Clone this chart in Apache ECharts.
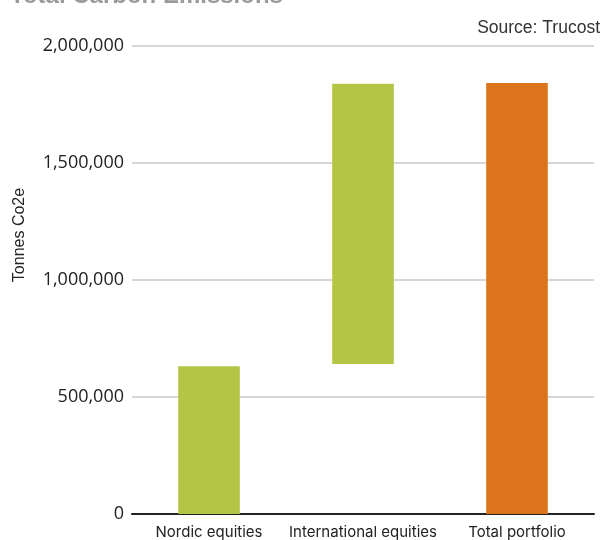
<!DOCTYPE html>
<html><head><meta charset="utf-8">
<script src="https://cdn.jsdelivr.net/npm/echarts@6/dist/echarts.min.js"></script>
<style>html,body{margin:0;padding:0;background:#fff}#c{width:606px;height:540px}</style>
</head><body><div id="c"></div>
<script>
const categories = ['Nordic equities', 'International equities', 'Total portfolio'];
const baseValues = [0, 641000, 0];
const barValues = [631000, 1198000, 1842000];
const barColors = ['#b4c545', '#b4c545', '#dc741b'];
const yTicks = [0, 500000, 1000000, 1500000, 2000000];

const chart = echarts.init(document.getElementById('c'));
chart.setOption({
  animation: false,
  title: [
    { text: 'Total Carbon Emissions', left: 5, top: -21,
      textStyle: { fontFamily: 'Liberation Sans', fontWeight: 'bold', fontSize: 24, color: '#9a9a9a' } },
    { text: 'Source: Trucost', right: 1, top: 14,
      textStyle: { fontFamily: 'Liberation Sans', fontWeight: 'normal', fontSize: 17.5, color: '#333' } }
  ],
  graphic: [
    { type: 'text', x: 20, y: 235, rotation: Math.PI / 2,
      style: { text: 'Tonnes Co2e', font: '16px "Liberation Sans"', fill: '#222',
        align: 'center', verticalAlign: 'middle' } }
  ],
  grid: { left: 132, right: 12, top: 46, bottom: 25 },
  xAxis: {
    type: 'category', data: categories,
    axisLine: { lineStyle: { color: '#222', width: 2 } },
    axisTick: { show: false },
    axisLabel: { interval: 0, fontFamily: 'Inter', fontSize: 15, color: '#222', margin: 11 }
  },
  yAxis: {
    type: 'value', min: yTicks[0], max: yTicks[yTicks.length - 1], interval: 500000,
    axisLine: { show: false }, axisTick: { show: false },
    splitLine: { lineStyle: { color: '#c8c8c8', width: 1.5 } },
    axisLabel: { fontFamily: 'Open Sans', fontSize: 18, color: '#222', margin: 8,
      formatter: v => v.toLocaleString('en-US') }
  },
  series: [
    { type: 'bar', stack: 'w', data: baseValues, barWidth: '40%',
      itemStyle: { color: 'transparent' }, silent: true },
    { type: 'bar', stack: 'w', barWidth: '40%',
      data: barValues.map((v, i) => ({ value: v, itemStyle: { color: barColors[i] } })) }
  ]
});
</script></body></html>
